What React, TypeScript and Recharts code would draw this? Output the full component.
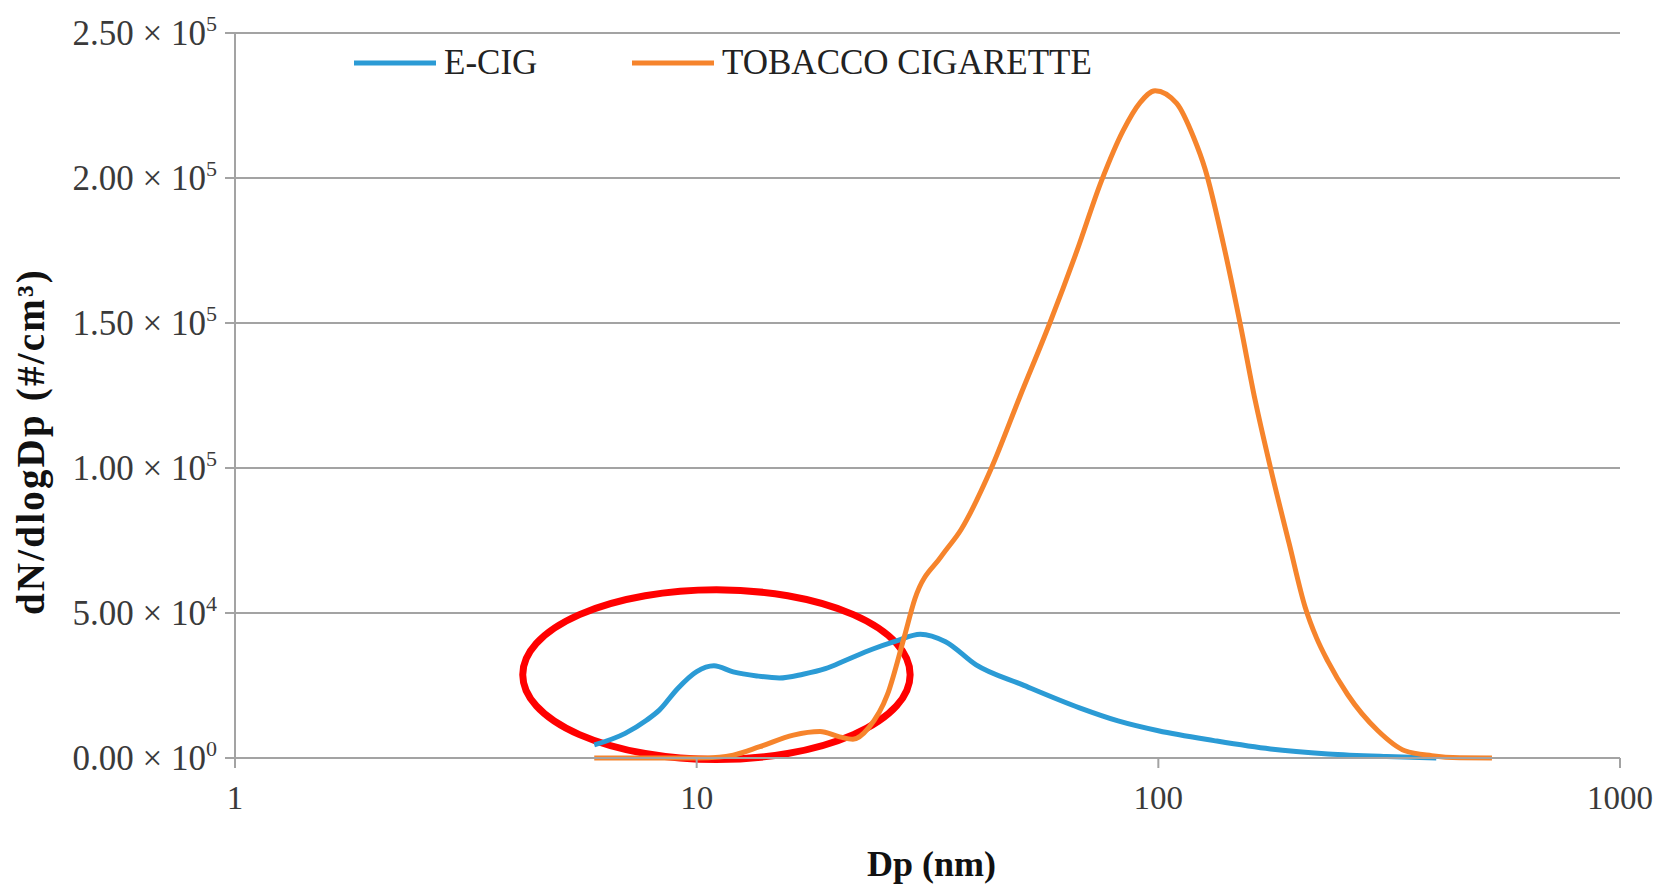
import React from "react";
import {
  LineChart,
  Line,
  XAxis,
  YAxis,
  CartesianGrid,
  Legend,
  Label,
  ReferenceArea,
} from "recharts";

// particle size (nm) and dN/dlogDp
const ecigDp = [6, 7, 7.8, 8.3, 9.1, 10, 10.9, 12, 13.5, 15.1, 17, 19, 21.1, 24, 27, 30.5, 34.6, 40.3, 50.7, 67.5, 81.8, 100, 132, 175, 233, 312, 400];
const ecigValues = [4500, 8500, 13100, 16500, 24000, 29800, 31800, 29700, 28300, 27600, 28900, 30800, 33800, 37500, 40300, 42700, 40100, 32100, 25300, 17300, 12800, 9400, 6000, 3100, 1400, 500, 0];

const tobaccoDp = [6, 8, 10, 11.2, 12, 13.7, 16.2, 18.5, 20.4, 21.8, 23.6, 25.9, 28.1, 29.7, 33.9, 37.4, 43.5, 50.1, 58.2, 66.5, 75.3, 84, 91.3, 98.4, 109.6, 119.1, 126.3, 138.2, 150.3, 162, 175, 192, 208, 220, 233, 257, 299, 342, 391, 450, 528];
const tobaccoValues = [0, 0, 0, 300, 1000, 3900, 7900, 9100, 7300, 6500, 10500, 21900, 41200, 54900, 69600, 78800, 100000, 124500, 150000, 174500, 199000, 216500, 226000, 230100, 225700, 214200, 203000, 177500, 150000, 123500, 100000, 74000, 52000, 41500, 33300, 21900, 9400, 2500, 800, 100, 0];

const xTicks = [1, 10, 100, 1000];
const yTicks = [0, 50000, 100000, 150000, 200000, 250000];

const seriesNames = ["E-CIG", "TOBACCO CIGARETTE"];
const seriesColors = ["#2b9bd5", "#f6842c"];

// highlighted region (data coordinates)
const highlightDp = [4.2, 29];
const highlightValue = [-500, 58000];

const ecigData = ecigDp.map((dp, i) => ({ dp, value: ecigValues[i] }));
const tobaccoData = tobaccoDp.map((dp, i) => ({ dp, value: tobaccoValues[i] }));

const FONT = "'Liberation Serif', 'Times New Roman', serif";
const GRID = "#a3a3a3";

const YTick = (props: any) => {
  const { x, y, payload } = props;
  const v = payload.value as number;
  const exp = v === 0 ? 0 : Math.floor(Math.log10(v));
  const mant = (v / Math.pow(10, exp)).toFixed(2);
  return (
    <text x={x} y={y} dy={12} textAnchor="end" fontFamily={FONT} fontSize={35} fill="#3a3a3a">
      <tspan>{`${mant} × 10`}</tspan>
      <tspan dy={-14} fontSize={22}>{exp}</tspan>
    </text>
  );
};

const XTick = (props: any) => {
  const { x, y, payload } = props;
  return (
    <text x={x} y={y} dy={41} textAnchor="middle" fontFamily={FONT} fontSize={33} fill="#3a3a3a">
      {payload.value}
    </text>
  );
};

const legendLeft = [354, 632];

const renderLegend = (props: any) => {
  const { payload } = props;
  return (
    <div style={{ position: "relative", width: 1658, height: 0 }}>
      {payload.map((item: any, i: number) => (
        <div
          key={item.value}
          style={{
            position: "absolute",
            left: legendLeft[i],
            top: 43,
            height: 40,
            display: "flex",
            alignItems: "center",
            whiteSpace: "nowrap",
          }}
        >
          <svg width={82} height={6}>
            <line x1={0} y1={3} x2={82} y2={3} stroke={item.color} strokeWidth={5} strokeLinecap="round" />
          </svg>
          <span style={{ marginLeft: 8, fontFamily: FONT, fontSize: 35, color: "#222" }}>{item.value}</span>
        </div>
      ))}
    </div>
  );
};

const Ellipse = (props: any) => {
  const { x, y, width, height } = props;
  return (
    <ellipse
      cx={x + width / 2}
      cy={y + height / 2}
      rx={width / 2}
      ry={height / 2}
      fill="none"
      stroke="#ff0000"
      strokeWidth={7}
    />
  );
};

const App = () => {
  return (
    <div style={{ position: "absolute", left: 0, top: 0, width: 1658, height: 885, background: "#fff" }}>
      <LineChart width={1658} height={885} margin={{ top: 33, right: 38, bottom: 67, left: 0 }}>
        <CartesianGrid vertical={false} stroke={GRID} strokeWidth={2} />
        <XAxis
          dataKey="dp"
          type="number"
          scale="log"
          domain={[1, 1000]}
          ticks={xTicks}
          allowDataOverflow
          height={60}
          tickSize={10}
          tickMargin={0}
          axisLine={{ stroke: GRID, strokeWidth: 2 }}
          tickLine={{ stroke: GRID, strokeWidth: 2 }}
          tick={<XTick />}
        >
          <Label
            content={(p: any) => (
              <text
                x={p.viewBox.x + p.viewBox.width / 2 + 4}
                y={p.viewBox.y + 118}
                textAnchor="middle"
                fontFamily={FONT}
                fontWeight="bold"
                fontSize={36}
                fill="#111"
              >
                Dp (nm)
              </text>
            )}
          />
        </XAxis>
        <YAxis
          type="number"
          domain={[0, 250000]}
          ticks={yTicks}
          width={235}
          tickSize={10}
          tickMargin={8}
          axisLine={{ stroke: GRID, strokeWidth: 2 }}
          tickLine={{ stroke: GRID, strokeWidth: 2 }}
          tick={<YTick />}
        >
          <Label
            content={(p: any) => {
              const cx = 44;
              const cy = p.viewBox.y + p.viewBox.height / 2 + 46;
              return (
                <text
                  x={cx}
                  y={cy}
                  transform={`rotate(-90, ${cx}, ${cy})`}
                  textAnchor="middle"
                  fontFamily={FONT}
                  fontWeight="bold"
                  fontSize={39}
                  letterSpacing={2.2}
                  fill="#111"
                >
                  dN/dlogDp (#/cm³)
                </text>
              );
            }}
          />
        </YAxis>
        <Legend
          verticalAlign="top"
          content={renderLegend}
          wrapperStyle={{ top: 0, left: 0, width: 1658, height: 0, overflow: "visible" }}
        />
        <Line
          data={ecigData}
          dataKey="value"
          name={seriesNames[0]}
          type="monotone"
          stroke={seriesColors[0]}
          strokeWidth={5}
          dot={false}
          activeDot={false}
          isAnimationActive={false}
        />
        <Line
          data={tobaccoData}
          dataKey="value"
          name={seriesNames[1]}
          type="monotone"
          stroke={seriesColors[1]}
          strokeWidth={5}
          dot={false}
          activeDot={false}
          isAnimationActive={false}
        />
        <ReferenceArea
          x1={highlightDp[0]}
          x2={highlightDp[1]}
          y1={highlightValue[0]}
          y2={highlightValue[1]}
          ifOverflow="visible"
          shape={<Ellipse />}
        />
      </LineChart>
    </div>
  );
};

export default App;
